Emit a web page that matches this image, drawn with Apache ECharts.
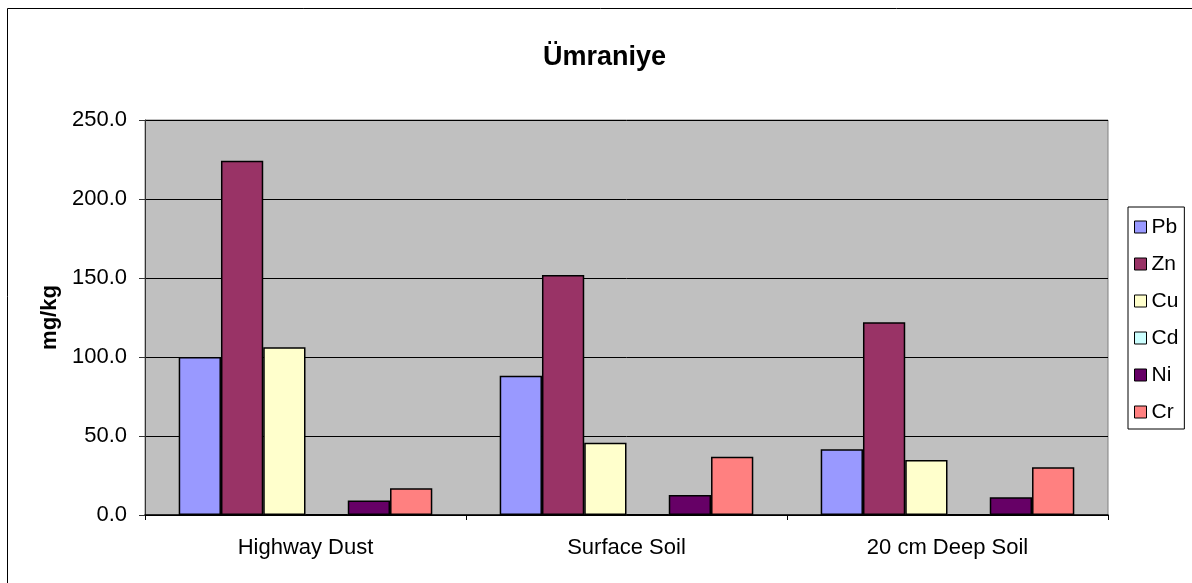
<!DOCTYPE html>
<html>
<head>
<meta charset="utf-8">
<title>Ümraniye</title>
<script src="https://cdn.jsdelivr.net/npm/echarts@6/dist/echarts.min.js"></script>
<style>
  html, body { margin: 0; padding: 0; background: #fff; }
  #chart { width: 1192px; height: 583px; }
</style>
</head>
<body>
<div id="chart"></div>
<script>
// sites on the x axis
var categories = ['Highway Dust', 'Surface Soil', '20 cm Deep Soil']
// metals, mg/kg
var metals = ['Pb', 'Zn', 'Cu', 'Cd', 'Ni', 'Cr']
var pb = [100.0, 88.2, 41.6]
var zn = [224.2, 151.9, 122.0]
var cu = [106.1, 45.8, 34.8]
var cd = [0.4, 0.3, 0.3]
var ni = [9.1, 12.7, 11.2]
var cr = [16.9, 36.9, 30.2]
var yTicks = [0, 50, 100, 150, 200, 250]

var values = [pb, zn, cu, cd, ni, cr]
var colors = ['#9999FF', '#993366', '#FFFFCC', '#CCFFFF', '#660066', '#FF8080']
var font = 'Liberation Sans, Arial, sans-serif'

var myChart = echarts.init(document.getElementById('chart'))

var series = metals.map(function (name, i) {
  return {
    name: name,
    type: 'bar',
    data: values[i],
    barGap: '0%',
    barCategoryGap: '21%',
    itemStyle: {
      color: colors[i],
      borderColor: '#000',
      borderWidth: 1.5
    }
  }
})

myChart.setOption({
  animation: false,
  backgroundColor: '#fff',
  // outer chart frame
  graphic: [{
    type: 'rect',
    shape: { x: 7.5, y: 8.5, width: 1200, height: 600 },
    style: { fill: 'none', stroke: '#000', lineWidth: 1 },
    silent: true,
    z: -1
  }],
  title: {
    text: 'Ümraniye',
    left: 538,
    top: 39,
    textStyle: {
      fontFamily: font,
      fontSize: 27,
      fontWeight: 'bold',
      color: '#000'
    }
  },
  legend: {
    data: metals,
    orient: 'vertical',
    left: 1128,
    top: 207,
    padding: [9, 6, 6, 6],
    itemGap: 15,
    itemWidth: 12,
    itemHeight: 12,
    itemTextGap: 4,
    icon: 'rect',
    borderColor: '#000',
    borderWidth: 1,
    backgroundColor: '#fff',
    itemStyle: { borderColor: '#000', borderWidth: 1 },
    textStyle: {
      fontFamily: font,
      fontSize: 21,
      lineHeight: 22,
      color: '#000'
    }
  },
  grid: {
    left: 145,
    right: 84,
    top: 120,
    bottom: 68,
    show: true,
    backgroundColor: '#C0C0C0',
    borderColor: '#808080',
    borderWidth: 1
  },
  xAxis: {
    type: 'category',
    data: categories,
    axisLine: { lineStyle: { color: '#000', width: 1.5 } },
    axisTick: { show: true, length: 5, lineStyle: { color: '#000' } },
    axisLabel: {
      margin: 22,
      fontFamily: font,
      fontSize: 22,
      color: '#000'
    },
    splitLine: { show: false }
  },
  yAxis: {
    type: 'value',
    min: yTicks[0],
    max: yTicks[yTicks.length - 1],
    interval: yTicks[1] - yTicks[0],
    name: 'mg/kg',
    nameLocation: 'middle',
    nameRotate: 90,
    nameGap: 76,
    nameTextStyle: {
      fontFamily: font,
      fontSize: 22,
      fontWeight: 'bold',
      color: '#000'
    },
    axisLine: { show: true, lineStyle: { color: '#333', width: 1 } },
    axisTick: { show: true, length: 6, lineStyle: { color: '#333' } },
    axisLabel: {
      margin: 18,
      fontFamily: font,
      fontSize: 22,
      color: '#000',
      formatter: function (v) { return v.toFixed(1) }
    },
    splitLine: { show: true, lineStyle: { color: '#000', width: 1 } }
  },
  series: series
})
</script>
</body>
</html>
